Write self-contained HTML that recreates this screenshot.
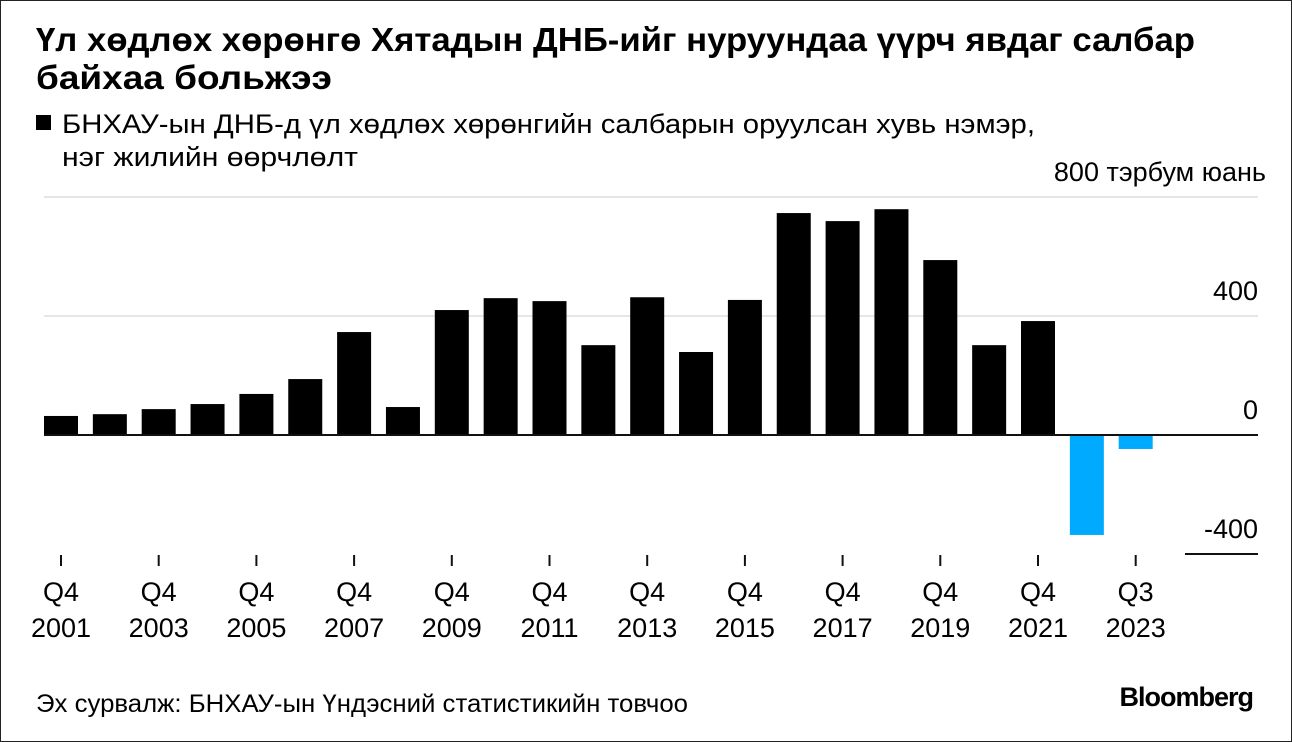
<!DOCTYPE html>
<html><head><meta charset="utf-8"><style>
body{margin:0;width:1292px;height:742px;background:#fff;font-family:"Liberation Sans",sans-serif;overflow:hidden}
#frame{position:absolute;left:0;top:0;width:1290px;height:740px;border:1px solid #222}
</style></head><body>
<div id="frame"></div>
<svg width="1292" height="742" style="position:absolute;left:0;top:0">
<text x="36" y="51" font-size="33" font-weight="bold" fill="#000" textLength="1159" lengthAdjust="spacingAndGlyphs">Үл хөдлөх хөрөнгө Хятадын ДНБ-ийг нуруундаа үүрч явдаг салбар</text>
<text x="36" y="89" font-size="33" font-weight="bold" fill="#000" textLength="296" lengthAdjust="spacingAndGlyphs">байхаа больжээ</text>
<rect x="36" y="115" width="15" height="15" fill="#000"/>
<text x="62" y="133" font-size="27" fill="#000" textLength="973" lengthAdjust="spacingAndGlyphs">БНХАУ-ын ДНБ-д үл хөдлөх хөрөнгийн салбарын оруулсан хувь нэмэр,</text>
<text x="62" y="166" font-size="27" fill="#000" textLength="296" lengthAdjust="spacingAndGlyphs">нэг жилийн өөрчлөлт</text>
<g id="grid"></g><g id="bars"></g><g id="axis"></g>
<text x="36" y="712" font-size="25" fill="#000" textLength="652" lengthAdjust="spacingAndGlyphs">Эх сурвалж: БНХАУ-ын Үндэсний статистикийн товчоо</text>
<text x="1253" y="706" font-size="27" font-weight="bold" fill="#000" text-anchor="end" letter-spacing="-1">Bloomberg</text>
</svg>
<script>
const years=[2001,2002,2003,2004,2005,2006,2007,2008,2009,2010,2011,2012,2013,2014,2015,2016,2017,2018,2019,2020,2021,2022,2023];
const values=[64,70,87,104,138,188,346,94,420,460,450,302,463,279,454,746,719,759,588,302,383,-336,-47];
const yTicks=[800,400,0,-400];
const yTickLabels=["800 тэрбум юань","400","0","-400"];
const xLabelIdx=[0,2,4,6,8,10,12,14,16,18,20,22];
const xLabelQ=["Q4","Q4","Q4","Q4","Q4","Q4","Q4","Q4","Q4","Q4","Q4","Q3"];
const NS="http://www.w3.org/2000/svg";
const y=v=>435-v*0.2975;
const xc=i=>61+i*48.85;
function mk(t,a,p){const e=document.createElementNS(NS,t);for(const k in a)e.setAttribute(k,a[k]);p.appendChild(e);return e;}
const grid=document.getElementById('grid'),bars=document.getElementById('bars'),axis=document.getElementById('axis');
yTicks.forEach((v,i)=>{
  let l;
  if(v===0) l=mk('line',{x1:44,x2:1258,y1:y(v),y2:y(v),stroke:'#111','stroke-width':2},axis);
  else if(v<0) l=mk('line',{x1:1185,x2:1258,y1:y(v),y2:y(v),stroke:'#111','stroke-width':2},axis);
  else l=mk('line',{x1:44,x2:1258,y1:y(v),y2:y(v),stroke:'#ddd','stroke-width':1.5},grid);
  
  
  const t=mk('text',{x:i===0?1266:1258,y:y(v)-16,'font-size':27,'text-anchor':'end',fill:'#000'},axis);
  t.textContent=yTickLabels[i];
  
  
});
values.forEach((v,i)=>{
  const top=Math.min(y(v),y(0)),h=Math.abs(y(v)-y(0));
  const r=mk('rect',{x:xc(i)-17,y:top,width:34,height:h,fill:v<0?'#00aaff':'#000'},bars);
  
  
});
xLabelIdx.forEach((idx,k)=>{
  const x=xc(idx);
  const tk=mk('line',{x1:x,x2:x,y1:555,y2:566,stroke:'#111','stroke-width':2},axis);
  
  
  const t1=mk('text',{x:x,y:601,'font-size':27,'text-anchor':'middle',fill:'#000'},axis);
  t1.textContent=xLabelQ[k];
  
  
  const t2=mk('text',{x:x,y:637,'font-size':27,'text-anchor':'middle',fill:'#000'},axis);
  t2.textContent=years[idx];
  
  
});
</script>
</body></html>
